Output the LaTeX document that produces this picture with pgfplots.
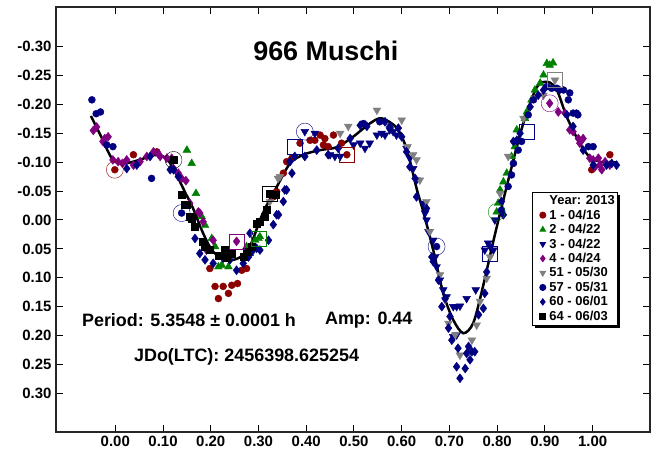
\documentclass[border=0pt]{standalone}
\usepackage{pgfplots}
\pgfplotsset{compat=1.18}
\usepackage{fontspec}
\setmainfont{Liberation Sans}
\usetikzlibrary{shadows}

\definecolor{cred}{RGB}{140,0,0}
\definecolor{cgreen}{RGB}{0,128,0}
\definecolor{cnavy}{RGB}{0,0,128}
\definecolor{cpurple}{RGB}{128,0,128}
\definecolor{cgray}{RGB}{128,128,128}

\begin{document}
\begin{tikzpicture}
\path[use as bounding box] (-56bp,-19bp) rectangle (600bp,432bp);
\begin{axis}[
scale only axis,
width=594bp,height=425bp,
xmin=-0.1242,xmax=1.1201,
ymin=-0.3687,ymax=0.3670,
y dir=reverse,
xtick={0,0.1,0.2,0.3,0.4,0.5,0.6,0.7,0.8,0.9,1.0},
xticklabels={0.00,0.10,0.20,0.30,0.40,0.50,0.60,0.70,0.80,0.90,1.00},
ytick={-0.3,-0.25,-0.2,-0.15,-0.1,-0.05,0,0.05,0.1,0.15,0.2,0.25,0.3},
yticklabels={-0.30,-0.25,-0.20,-0.15,-0.10,-0.05,0.00,0.05,0.10,0.15,0.20,0.25,0.30},
tick align=inside,
major tick length=7bp,
tick style={black,line width=1bp},
axis line style={line width=1.5bp,black!85},
ticklabel style={font=\bfseries\fontsize{15}{18}\selectfont},
yticklabel style={xshift=-1bp},
xticklabel style={yshift=-1bp},
only marks,
legend cell align=left,
legend image post style={mark size=3bp},
legend style={at={(0.801,0.565)},anchor=north west,
  font=\bfseries\fontsize{13}{15}\selectfont,
  draw=black,line width=1bp,row sep=1.2pt,column sep=2.5pt,inner sep=2pt,
  nodes={inner sep=1.2pt},
  drop shadow={shadow xshift=2.5bp,shadow yshift=-2.5bp,fill=black,opacity=1}},
]
\addlegendimage{empty legend}
\addlegendentry{Year: 2013}

% 1 - 04/16
\addplot[cred,mark=*,mark size=3.5bp] coordinates {
(-0.001,-0.087) (0.038,-0.113) (0.087,-0.118) (0.198,0.084) (0.209,0.115)
(0.226,0.115) (0.216,0.136) (0.237,0.127) (0.244,0.113) (0.256,0.110)
(0.265,0.087) (0.275,0.084) (0.331,-0.040) (0.338,-0.049) (0.352,-0.081)
(0.359,-0.101) (0.370,-0.107) (0.387,-0.133) (0.408,-0.138) (0.418,-0.138)
(0.429,-0.147) (0.439,-0.141) (0.436,-0.130) (0.446,-0.127) (0.457,-0.147)
(0.474,-0.133) (0.485,-0.113) (0.998,-0.087) (1.036,-0.113)
};
\addlegendentry{1 - 04/16}

% 2 - 04/22
\addplot[cgreen,mark=triangle*,mark size=4.5bp] coordinates {
(0.150,-0.121) (0.160,-0.098) (0.169,-0.046) (0.181,-0.006) (0.188,0.009)
(0.202,0.032) (0.209,0.046) (0.216,0.081) (0.223,0.078) (0.237,0.081)
(0.275,0.046) (0.282,0.058) (0.293,0.035) (0.300,0.032) (0.303,0.029)
(0.799,-0.014) (0.802,-0.029) (0.806,-0.052) (0.813,-0.066) (0.820,-0.081)
(0.830,-0.110) (0.837,-0.127) (0.841,-0.156) (0.858,-0.176) (0.862,-0.187)
(0.872,-0.208) (0.879,-0.225) (0.890,-0.237) (0.897,-0.251) (0.904,-0.271)
(0.910,-0.268) (0.917,-0.272)
};
\addlegendentry{2 - 04/22}

% 3 - 04/22
\addplot[cnavy,mark=triangle*,mark size=4.5bp,mark options={rotate=180}] coordinates {
(0.397,-0.153) (0.418,-0.150) (0.450,-0.113) (0.460,-0.110) (0.471,-0.110)
(0.499,-0.130) (0.513,-0.133) (0.523,-0.124) (0.533,-0.133) (0.548,-0.147)
(0.558,-0.150) (0.565,-0.147) (0.575,-0.156) (0.582,-0.153) (0.589,-0.147)
(0.610,-0.124) (0.617,-0.107) (0.624,-0.089) (0.631,-0.069) (0.645,-0.029)
(0.649,-0.012) (0.652,0.000) (0.656,0.020) (0.666,0.035) (0.670,0.064)
(0.673,0.081) (0.680,0.104) (0.687,0.121) (0.694,0.133) (0.708,0.150)
(0.715,0.150) (0.722,0.149) (0.736,0.136) (0.755,0.121) (0.774,0.052)
(0.781,0.040) (0.785,0.046) (0.792,0.052) (0.795,0.000) (0.708,0.202)
(0.715,0.199)
};
\addlegendentry{3 - 04/22}

% 4 - 04/24
\addplot[cpurple,mark=diamond*,mark size=4.5bp] coordinates {
(-0.046,-0.155) (-0.039,-0.161) (-0.026,-0.136) (-0.022,-0.141) (-0.015,-0.144)
(-0.005,-0.104) (0.006,-0.101) (0.015,-0.098) (0.024,-0.104) (0.038,-0.095)
(0.052,-0.101) (0.066,-0.110) (0.080,-0.118) (0.090,-0.115) (0.094,-0.110)
(0.108,-0.107) (0.118,-0.107) (0.122,-0.089) (0.132,-0.081) (0.139,-0.072)
(0.148,-0.068) (0.156,-0.029) (0.174,-0.014) (0.177,-0.012) (0.184,0.003)
(0.191,0.052) (0.205,0.035) (0.254,0.037) (0.910,-0.202) (0.928,-0.187)
(0.942,-0.185) (0.952,-0.156) (0.959,-0.153) (0.970,-0.141) (0.973,-0.133)
(0.980,-0.141) (0.994,-0.107) (1.001,-0.104) (1.005,-0.092) (1.012,-0.107)
(1.015,-0.095) (1.019,-0.087) (1.026,-0.101) (1.036,-0.095)
};
\addlegendentry{4 - 04/24}

% 51 - 05/30
\addplot[cgray,mark=triangle*,mark size=4.5bp,mark options={rotate=180}] coordinates {
(0.324,-0.032) (0.341,-0.072) (0.345,-0.075) (0.471,-0.150) (0.488,-0.162)
(0.548,-0.190) (0.600,-0.173) (0.612,-0.127) (0.624,-0.113) (0.631,-0.104)
(0.638,-0.069) (0.652,-0.032) (0.659,0.020) (0.680,0.095) (0.691,0.138)
(0.698,0.179) (0.712,0.199) (0.722,0.234) (0.747,0.208) (0.757,0.182)
(0.764,0.141) (0.778,0.101) (0.785,0.064) (0.806,-0.046) (0.823,-0.110)
(0.855,-0.176) (0.879,-0.211) (0.897,-0.216) (0.921,-0.242)
};
\addlegendentry{51 - 05/30}

% 57 - 05/31
\addplot[cnavy,mark=*,mark size=3.5bp] coordinates {
(-0.049,-0.208) (-0.040,-0.184) (-0.031,-0.187) (-0.018,-0.130) (-0.005,-0.127)
(0.076,-0.072) (0.139,-0.012) (0.520,-0.167) (0.554,-0.170) (0.673,0.046)
(0.809,-0.017) (0.823,-0.058) (0.830,-0.078) (0.834,-0.098) (0.844,-0.121)
(0.851,-0.136) (0.865,-0.182) (0.876,-0.208) (0.904,-0.231) (0.914,-0.228)
(0.925,-0.228) (0.931,-0.225) (0.939,-0.225) (0.949,-0.208) (0.952,-0.220)
(0.959,-0.185) (0.966,-0.185) (0.969,-0.182) (0.991,-0.127) (1.001,-0.127)
};
\addlegendentry{57 - 05/31}

% 60 - 06/01
\addplot[cnavy,mark=diamond*,mark size=4.5bp] coordinates {
(0.024,-0.089) (0.045,-0.095) (0.073,-0.110) (0.115,-0.087) (0.122,-0.087)
(0.132,-0.075) (0.167,0.032) (0.177,0.058) (0.188,0.069) (0.205,0.075)
(0.226,0.066) (0.240,0.069) (0.254,0.087) (0.268,0.075) (0.279,0.064)
(0.286,0.055) (0.282,0.023) (0.296,0.049) (0.303,0.052) (0.321,0.035)
(0.331,0.008) (0.338,-0.009) (0.342,-0.009) (0.352,-0.032) (0.355,-0.052)
(0.359,-0.052) (0.370,-0.081) (0.366,-0.101) (0.376,-0.110) (0.397,-0.110)
(0.422,-0.121) (0.446,-0.113) (0.467,-0.124) (0.492,-0.141) (0.513,-0.164)
(0.527,-0.162) (0.565,-0.170) (0.575,-0.162) (0.593,-0.159) (0.600,-0.144)
(0.610,-0.118) (0.617,-0.092) (0.628,-0.072) (0.631,-0.040) (0.652,-0.020)
(0.663,0.064) (0.666,0.072) (0.677,0.104) (0.684,0.150) (0.691,0.136)
(0.701,0.167) (0.698,0.187) (0.705,0.208) (0.718,0.222) (0.740,0.219)
(0.747,0.228) (0.736,0.231) (0.715,0.254) (0.733,0.257) (0.743,0.242)
(0.722,0.274) (0.753,0.228) (0.761,0.164) (0.771,0.153) (0.774,0.127)
(0.778,0.090) (0.809,-0.032) (0.813,-0.009) (0.834,-0.136) (0.841,-0.138)
(0.848,-0.150) (0.869,-0.196) (0.886,-0.216) (0.897,-0.225) (0.946,-0.182)
(0.959,-0.162) (0.980,-0.121) (1.001,-0.095) (1.029,-0.095) (1.040,-0.098)
(1.050,-0.095)
};
\addlegendentry{60 - 06/01}

% 64 - 06/03
\addplot[black,mark=square*,mark size=3.5bp] coordinates {
(0.122,-0.104) (0.139,-0.043) (0.146,-0.026) (0.150,-0.026) (0.156,-0.006)
(0.160,-0.003) (0.167,0.012) (0.184,0.037) (0.188,0.046) (0.198,0.052)
(0.216,0.061) (0.230,0.052) (0.233,0.066) (0.244,0.058) (0.268,0.064)
(0.275,0.055) (0.286,0.046) (0.296,0.006) (0.303,0.003) (0.314,-0.006)
(0.317,-0.017) (0.324,-0.046) (0.335,-0.043)
};
\addlegendentry{64 - 06/03}

% open circles and squares round first and last points of sessions
\addplot[cred,mark=o,mark size=8.5bp,forget plot] coordinates {(-0.001,-0.087)};
\addplot[black,mark=o,mark size=8.5bp,forget plot] coordinates {(0.122,-0.104)};
\addplot[cnavy,mark=o,mark size=8.5bp,forget plot] coordinates {(0.139,-0.012) (0.397,-0.153) (0.673,0.046)};
\addplot[cgreen,mark=o,mark size=8.5bp,forget plot] coordinates {(0.799,-0.014)};
\addplot[cpurple,mark=o,mark size=8.5bp,forget plot] coordinates {(0.910,-0.202)};
\addplot[black,mark=square,mark size=7.5bp,forget plot] coordinates {(0.324,-0.046)};
\addplot[cpurple,mark=square,mark size=7.5bp,forget plot] coordinates {(0.254,0.037)};
\addplot[cgreen,mark=square,mark size=7.5bp,forget plot] coordinates {(0.300,0.032)};
\addplot[cnavy,mark=square,mark size=7.5bp,forget plot] coordinates {(0.376,-0.127) (0.785,0.058) (0.862,-0.153)};
\addplot[cred,mark=square,mark size=7.5bp,forget plot] coordinates {(0.485,-0.113)};
\addplot[cgray,mark=square,mark size=7.5bp,forget plot] coordinates {(0.921,-0.242)};

% fitted curve
\addplot[black,line width=2.5bp,no marks,smooth,forget plot] coordinates {
(-0.051,-0.180) (-0.030,-0.145) (-0.005,-0.104) (0.020,-0.098) (0.050,-0.104)
(0.080,-0.112) (0.095,-0.112) (0.110,-0.104) (0.125,-0.084) (0.145,-0.050)
(0.163,-0.020) (0.184,0.023) (0.205,0.055) (0.234,0.069) (0.255,0.067)
(0.276,0.055) (0.290,0.030) (0.303,0.000) (0.320,-0.030) (0.338,-0.057)
(0.366,-0.098) (0.394,-0.113) (0.429,-0.121) (0.464,-0.126) (0.498,-0.144)
(0.533,-0.167) (0.558,-0.176) (0.590,-0.159) (0.611,-0.121) (0.632,-0.052)
(0.645,-0.015) (0.666,0.052) (0.687,0.127) (0.708,0.173) (0.729,0.196)
(0.750,0.178) (0.770,0.116) (0.791,0.040) (0.810,-0.025) (0.834,-0.104)
(0.855,-0.168) (0.883,-0.230) (0.906,-0.239) (0.925,-0.225) (0.946,-0.178)
(0.973,-0.133) (0.994,-0.109) (1.020,-0.100) (1.050,-0.100)
};

\node[font=\bfseries\fontsize{27}{30}\selectfont] at (axis cs:0.441,-0.293) {966 Muschi};
\node[anchor=west,font=\bfseries\fontsize{18}{20}\selectfont,inner sep=0pt] at (axis cs:-0.070,0.174) {Period: 5.3548 ± 0.0001 h};
\node[anchor=west,font=\bfseries\fontsize{18}{20}\selectfont,inner sep=0pt] at (axis cs:0.439,0.174) {Amp: 0.44};
\node[anchor=west,font=\bfseries\fontsize{18}{20}\selectfont,inner sep=0pt] at (axis cs:0.039,0.237) {JDo(LTC): 2456398.625254};
\end{axis}
\end{tikzpicture}
\end{document}
